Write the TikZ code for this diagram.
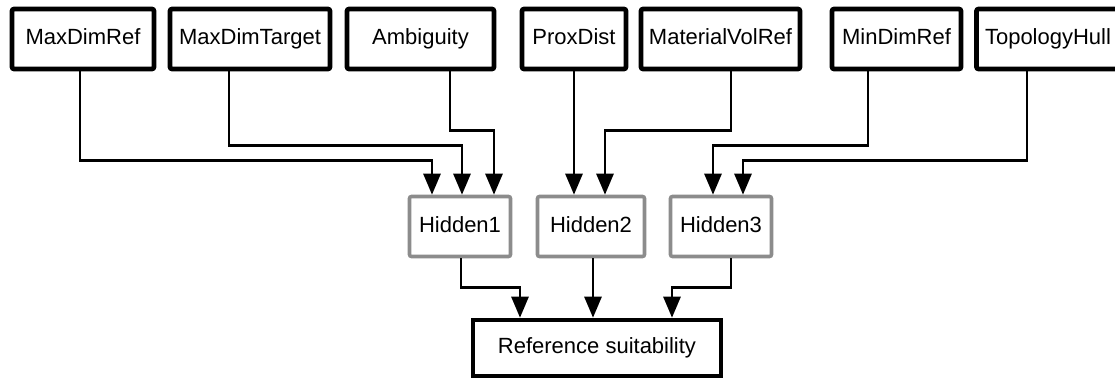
\documentclass[tikz,border=0pt]{standalone}
\usepackage{fontspec}
\setmainfont{Liberation Sans}
\usetikzlibrary{calc,arrows.meta}

\tikzset{
	input/.style={draw, line width=2.3pt, rounded corners=1pt, inner sep=0pt,
		minimum height=30pt, text height=8pt, text depth=2.3pt,
		font=\fontsize{11}{13}\selectfont},
	hidden/.style={draw=black!45, line width=1.8pt, rounded corners=1pt, inner sep=0pt,
		minimum width=50.5pt, minimum height=30pt, text height=8pt, text depth=2.3pt,
		font=\fontsize{11}{13}\selectfont},
	output/.style={draw, line width=2.3pt, inner sep=0pt, minimum width=124pt,
		minimum height=28pt, text height=8pt, text depth=2.3pt,
		font=\fontsize{11}{13}\selectfont},
	link/.style={line width=1.4pt, -{Triangle[length=10.5pt,width=8.5pt]}}
}

\begin{document}
\begin{tikzpicture}[x=0.5pt, y=-0.5pt]
	\useasboundingbox (0,0) rectangle (1115,380);

	% input layer
	\node[input, minimum width=71pt] (mdr) at (83,39) {MaxDimRef};
	\node[input, minimum width=80pt] (mdt) at (250,39) {MaxDimTarget};
	\node[input, minimum width=73.5pt] (amb) at (420.5,39) {Ambiguity};
	\node[input, minimum width=52pt] (prox) at (574,39) {ProxDist};
	\node[input, minimum width=79.5pt] (mvr) at (720.5,39) {MaterialVolRef};
	\node[input, minimum width=64.5pt] (mindr) at (896.5,39) {MinDimRef};
	\node[input, minimum width=71.5pt] (topo) at (1048,39) {TopologyHull};

	% hidden layer
	\node[hidden] (h1) at (460,226.5) {Hidden1};
	\node[hidden, minimum width=53.5pt] (h2) at (591,226.5) {Hidden2};
	\node[hidden] (h3) at (721,226.5) {Hidden3};

	\node[output] (rs) at (597,348) {Reference suitability};

	% inputs to hidden units
	\draw[link] ($(mdr.south)+(-3,0)$) -- ++(0,89) -| ($(h1.north)+(-28,0)$);
	\draw[link] ($(mdt.south)+(-21,0)$) -- ++(0,74) -| ($(h1.north)+(2,0)$);
	\draw[link] ($(amb.south)+(29.5,0)$) -- ++(0,59) -| ($(h1.north)+(34,0)$);
	\draw[link] (prox.south) -- ($(h2.north)+(-17,0)$);
	\draw[link] ($(mvr.south)+(10.5,0)$) -- ++(0,59) -| ($(h2.north)+(14,0)$);
	\draw[link] ($(mindr.south)+(-28.5,0)$) -- ++(0,74) -| ($(h3.north)+(-8,0)$);
	\draw[link] ($(topo.south)+(-21,0)$) -- ++(0,89) -| ($(h3.north)+(22,0)$);

	% hidden units to output
	\draw[link] ($(h1.south)+(1,0)$) -- ++(0,29.5) -| ($(rs.north)+(-77,0)$);
	\draw[link] ($(h2.south)+(2,0)$) -- ($(rs.north)+(-4,0)$);
	\draw[link] ($(h3.south)+(10,0)$) -- ++(0,29.5) -| ($(rs.north)+(75,0)$);
\end{tikzpicture}
\end{document}
